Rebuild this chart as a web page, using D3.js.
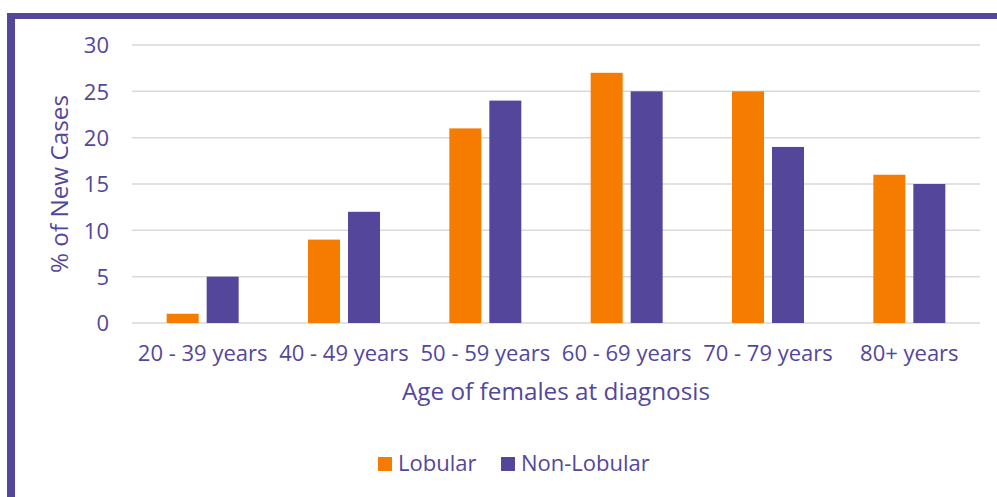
<!DOCTYPE html>
<html>
<head>
<meta charset="utf-8">
<script src="https://cdn.jsdelivr.net/npm/d3@7"></script>
<style>
  body { margin: 0; background: #fff; }
  text { font-family: "Open Sans", sans-serif; fill: #54479B; }
</style>
</head>
<body>
<script>
// data
const ageGroups = ['20 - 39 years', '40 - 49 years', '50 - 59 years', '60 - 69 years', '70 - 79 years', '80+ years'];
const seriesNames = ['Lobular', 'Non-Lobular'];
const lobular = [1, 9, 21, 27, 25, 16];
const nonLobular = [5, 12, 24, 25, 19, 15];
const yTicks = [0, 5, 10, 15, 20, 25, 30];

const colors = { 'Lobular': '#F57C00', 'Non-Lobular': '#54479B' };
const purple = '#54479B';

const W = 997, H = 497;
const margin = { top: 45, right: 17, bottom: 174, left: 132 };
const width = W - margin.left - margin.right;
const height = H - margin.top - margin.bottom;

const rows = ageGroups.map((g, i) => ({ group: g, 'Lobular': lobular[i], 'Non-Lobular': nonLobular[i] }));

const svg = d3.select('body')
    .append('svg')
    .attr('width', W)
    .attr('height', H);

// frame: purple bar on the top and left
svg.append('rect').attr('x', 7).attr('y', 13).attr('width', W - 7).attr('height', 6).attr('fill', purple);
svg.append('rect').attr('x', 7).attr('y', 13).attr('width', 8).attr('height', H - 13).attr('fill', purple);

const g = svg.append('g')
    .attr('transform', `translate(${margin.left},${margin.top})`);

const x0 = d3.scaleBand()
    .domain(ageGroups)
    .range([0, width])
    .padding(0);

const x1 = d3.scaleBand()
    .domain(seriesNames)
    .range([0, x0.bandwidth()])
    .paddingInner(0.2)
    .paddingOuter(0.867);

const y = d3.scaleLinear()
    .domain([0, 30])
    .range([height, 0]);

// gridlines
g.selectAll('.grid')
    .data(yTicks)
    .enter()
    .append('line')
    .attr('class', 'grid')
    .attr('x1', 0)
    .attr('x2', width)
    .attr('y1', d => y(d))
    .attr('y2', d => y(d))
    .attr('stroke', '#D9D9D9')
    .attr('stroke-width', 1.5);

// bars
g.selectAll('.group')
    .data(rows)
    .enter()
    .append('g')
    .attr('class', 'group')
    .attr('transform', d => `translate(${x0(d.group)},0)`)
    .selectAll('rect')
    .data(d => seriesNames.map(k => ({ key: k, value: d[k] })))
    .enter()
    .append('rect')
    .attr('x', d => x1(d.key))
    .attr('y', d => y(d.value))
    .attr('width', x1.bandwidth())
    .attr('height', d => y(0) - y(d.value))
    .attr('fill', d => colors[d.key]);

// y tick labels
const yAxis = g.append('g')
    .attr('transform', 'translate(-23,0)')
    .call(d3.axisLeft(y).tickValues(yTicks).tickSize(0).tickPadding(0));
yAxis.select('.domain').remove();
yAxis.selectAll('text')
    .attr('fill', purple)
    .style('font-family', '"Open Sans", sans-serif')
    .style('font-size', '22px')
    .attr('dy', '0.35em');

// x tick labels
const xAxis = g.append('g')
    .attr('transform', `translate(0,${height})`)
    .call(d3.axisBottom(x0).tickSize(0).tickPadding(0));
xAxis.select('.domain').remove();
xAxis.selectAll('text')
    .attr('fill', purple)
    .attr('y', 38)
    .attr('dy', 0)
    .style('font-family', '"Open Sans", sans-serif')
    .style('font-size', '22px');

// axis titles
g.append('text')
    .attr('x', width / 2)
    .attr('y', height + 77)
    .attr('text-anchor', 'middle')
    .style('font-size', '24.3px')
    .text('Age of females at diagnosis');

g.append('text')
    .attr('transform', `translate(${68 - margin.left},${height / 2}) rotate(-90)`)
    .attr('text-anchor', 'middle')
    .style('font-size', '24.3px')
    .text('% of New Cases');

// legend
const legendItems = [
    { key: 'Lobular', x: 378 },
    { key: 'Non-Lobular', x: 501 }
];
const legend = svg.selectAll('.legend')
    .data(legendItems)
    .enter()
    .append('g')
    .attr('class', 'legend')
    .attr('transform', d => `translate(${d.x},457)`);
legend.append('rect')
    .attr('width', 14)
    .attr('height', 14)
    .attr('fill', d => colors[d.key]);
legend.append('text')
    .attr('x', 20)
    .attr('y', 14)
    .style('font-size', '22px')
    .text(d => d.key);
</script>
</body>
</html>
